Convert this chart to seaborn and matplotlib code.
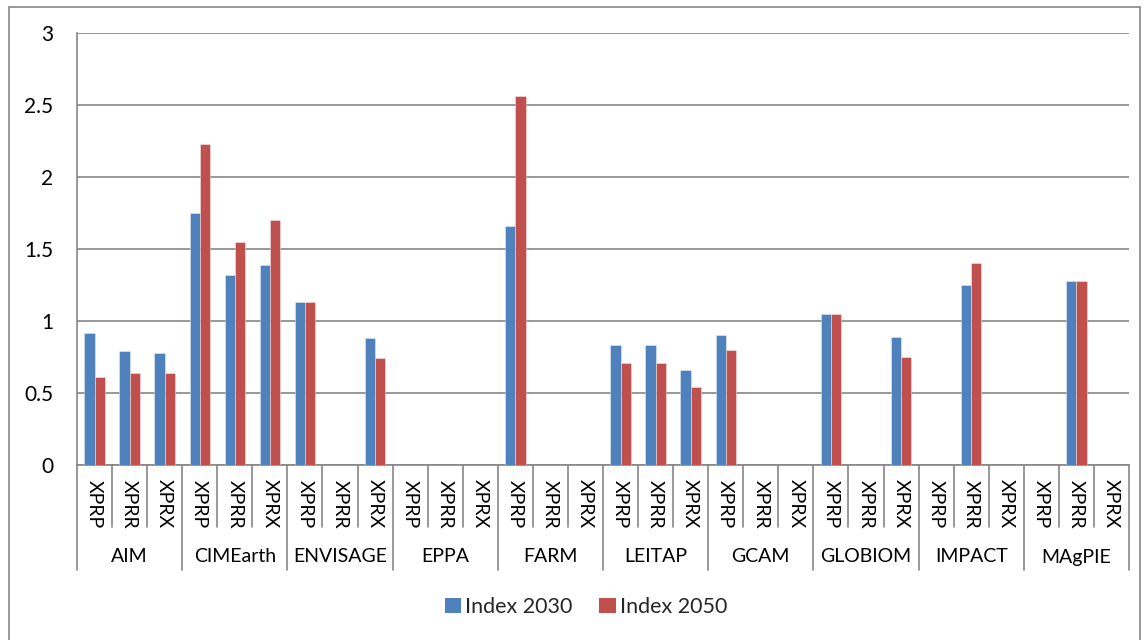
import numpy as np
import pandas as pd
import matplotlib
matplotlib.use("Agg")
import matplotlib.pyplot as plt
import seaborn as sns
from matplotlib.patches import Rectangle, Patch
from matplotlib.lines import Line2D

# ---- data -------------------------------------------------------------
models = ["AIM", "CIMEarth", "ENVISAGE", "EPPA", "FARM",
          "LEITAP", "GCAM", "GLOBIOM", "IMPACT", "MAgPIE"]
scenarios = ["XPRP", "XPRR", "XPRX"]
series_names = ["Index 2030", "Index 2050"]
nan = np.nan
index_2030 = [0.92, 0.79, 0.78,   1.75, 1.32, 1.39,   1.13, nan, 0.88,
              nan, nan, nan,      1.66, nan, nan,     0.83, 0.83, 0.66,
              0.90, nan, nan,     1.05, nan, 0.89,    nan, 1.25, nan,
              nan, 1.28, nan]
index_2050 = [0.61, 0.64, 0.64,   2.23, 1.55, 1.70,   1.13, nan, 0.74,
              nan, nan, nan,      2.56, nan, nan,     0.71, 0.71, 0.54,
              0.80, nan, nan,     1.05, nan, 0.75,    nan, 1.40, nan,
              nan, 1.28, nan]
y_ticks = [0, 0.5, 1, 1.5, 2, 2.5, 3]
y_tick_labels = ["0", "0.5", "1", "1.5", "2", "2.5", "3"]

# ---- long table ---------------------------------------------------------
keys = [f"{m}|{s}" for m in models for s in scenarios]
rows = []
for name, vals in zip(series_names, [index_2030, index_2050]):
    for k, v in zip(keys, vals):
        if not np.isnan(v):
            rows.append({"key": k, "series": name, "value": v})
df = pd.DataFrame(rows)

BLUE = "#4F81BD"
RED = "#C0504D"
GRID = "#868686"
FONT = "Lato"

sns.set_style("white")
plt.rcParams["font.family"] = [FONT, "DejaVu Sans"]

W, H = 1145, 640
fig = plt.figure(figsize=(W / 100, H / 100), dpi=100)
x0, x1, y0, y1 = 77, 1129, 33, 465
ax = fig.add_axes([x0 / W, 1 - y1 / H, (x1 - x0) / W, (y1 - y0) / H])

sns.barplot(data=df, x="key", y="value", hue="series", order=keys,
            hue_order=series_names, palette=[BLUE, RED], width=0.58,
            dodge=True, saturation=1, ax=ax, legend=False, zorder=3,
            edgecolor=(1, 1, 1, 0.45), linewidth=0.6)

ax.set_xlim(-0.5, len(keys) - 0.5)
ax.set_ylim(0, 3)
ax.set_yticks(y_ticks)
ax.set_yticklabels(y_tick_labels, fontsize=15, color="black")
ax.set_xlabel("")
ax.set_ylabel("")
ax.yaxis.grid(True, color=GRID, linewidth=1.2, zorder=0)
ax.set_axisbelow(True)
for side in ["top", "right"]:
    ax.spines[side].set_visible(False)
for side in ["left", "bottom"]:
    ax.spines[side].set_color(GRID)
    ax.spines[side].set_linewidth(1.2)
ax.tick_params(axis="y", length=5, width=1.2, color=GRID, pad=12)
ax.set_xticks(range(len(keys)))
ax.set_xticklabels([])
ax.tick_params(axis="x", length=3, width=1.2, color=GRID)

# ---- two-level category axis --------------------------------------------
def frac(ypix):
    return (y1 - ypix) / (y1 - y0)

trans = ax.get_xaxis_transform()
n_s = len(scenarios)
for i in range(len(keys) + 1):
    xb = i - 0.5
    bottom = 570 if i % n_s == 0 else 527
    ax.add_line(Line2D([xb, xb], [0, frac(bottom)], transform=trans,
                       color=GRID, linewidth=1.2, clip_on=False))

for i, k in enumerate(keys):
    scen = k.split("|")[1]
    ax.text(i, frac(504), scen, transform=trans, rotation=270,
            ha="center", va="center", fontsize=14, color="black")

for j, m in enumerate(models):
    xc = j * n_s + (n_s - 1) / 2
    ax.text(xc, frac(557), m, transform=trans, ha="center", va="center",
            fontsize=14, color="black")

# ---- legend -------------------------------------------------------------
handles = [Patch(facecolor=BLUE, edgecolor="none"),
           Patch(facecolor=RED, edgecolor="none")]
fig.legend(handles, series_names, loc="center",
           bbox_to_anchor=(586 / W, 1 - 607 / H), ncol=2, frameon=False,
           fontsize=15.5, handlelength=0.75, handleheight=0.75,
           handletextpad=0.2, columnspacing=1.25, borderpad=0)

# ---- chart border -------------------------------------------------------
fig.patches.append(Rectangle((9 / W, -0.01), (1140 - 9) / W, 1 - 7 / H + 0.01,
                             transform=fig.transFigure, fill=False,
                             edgecolor=GRID, linewidth=1.2))

fig.savefig("out.png", dpi=100, facecolor="white")
